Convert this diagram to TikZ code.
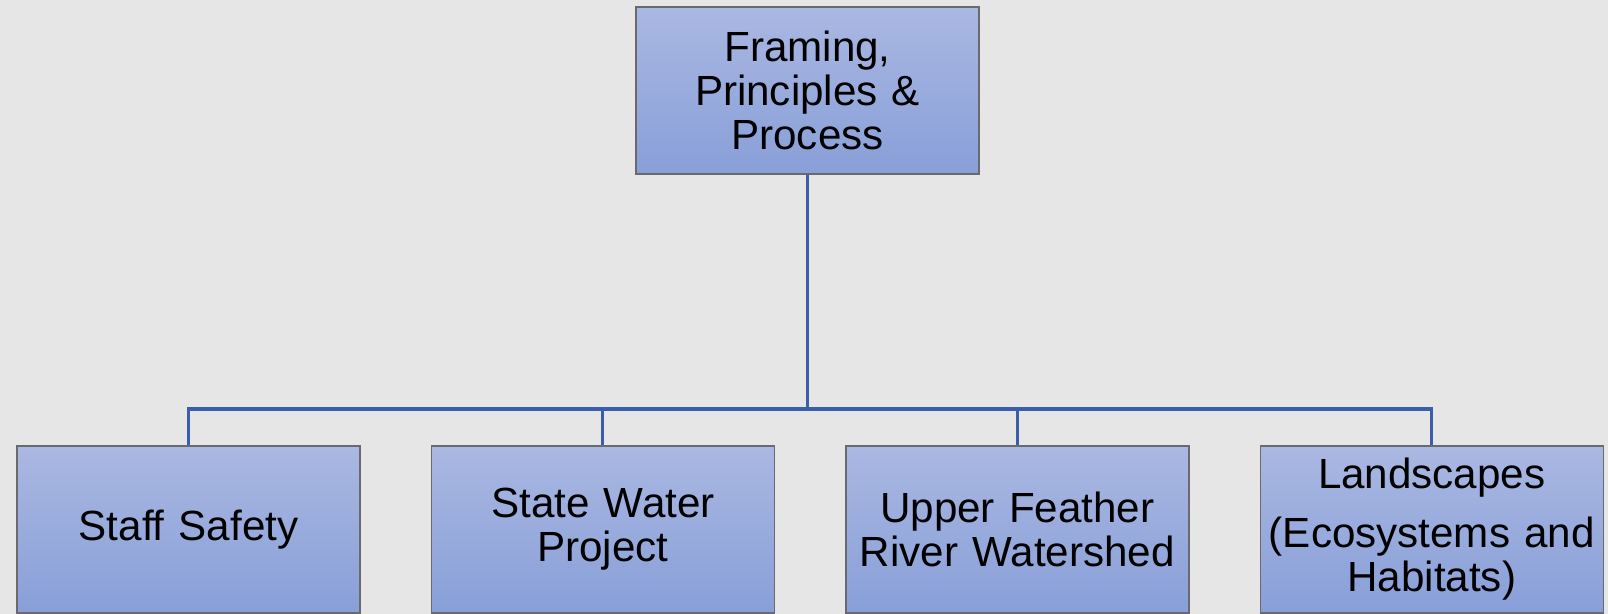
\documentclass[tikz,border=0pt]{standalone}
\usepackage{fontspec}
\setmainfont{Liberation Sans}
\usetikzlibrary{positioning}
\definecolor{boxtop}{RGB}{170,184,226}
\definecolor{boxbottom}{RGB}{136,159,216}
\definecolor{linkblue}{RGB}{58,94,170}
\definecolor{boxedge}{RGB}{105,105,110}
\definecolor{backgray}{RGB}{230,230,230}

\begin{document}
\begin{tikzpicture}[node distance=1.40cm,
                main node/.style={rectangle,draw=boxedge,line width=0.8pt,top color=boxtop,bottom color=boxbottom,
                minimum width=6.86cm,minimum height=3.34cm,text width=6.7cm,inner sep=0pt,align=center,
                font=\fontsize{24}{25}\selectfont},
                link/.style={draw=linkblue,line width=1.8pt}]
                \fill[backgray] (0,0) rectangle (32.16,-12.28);
                \useasboundingbox (0,0) rectangle (32.16,-12.28);
                \node[main node] (0) at (16.15,-1.81) {Framing,\\Principles \&\\Process};
                \node[main node] (1) at (3.77,-10.59) {Staff Safety};
                \node[main node] (2) [right=of 1] {State Water\\Project};
                \node[main node] (3) [right=of 2] {Upper Feather\\River Watershed};
                \node[main node] (4) [right=of 3] {Landscapes\\[0.3cm](Ecosystems and\\Habitats)};

                \coordinate (s) at (16.15,-8.18);
                \path[link] (0) edge (s);
                \foreach \n in {1,...,4}
                  \draw[link] (s) -| (\n);
\end{tikzpicture}
\end{document}
